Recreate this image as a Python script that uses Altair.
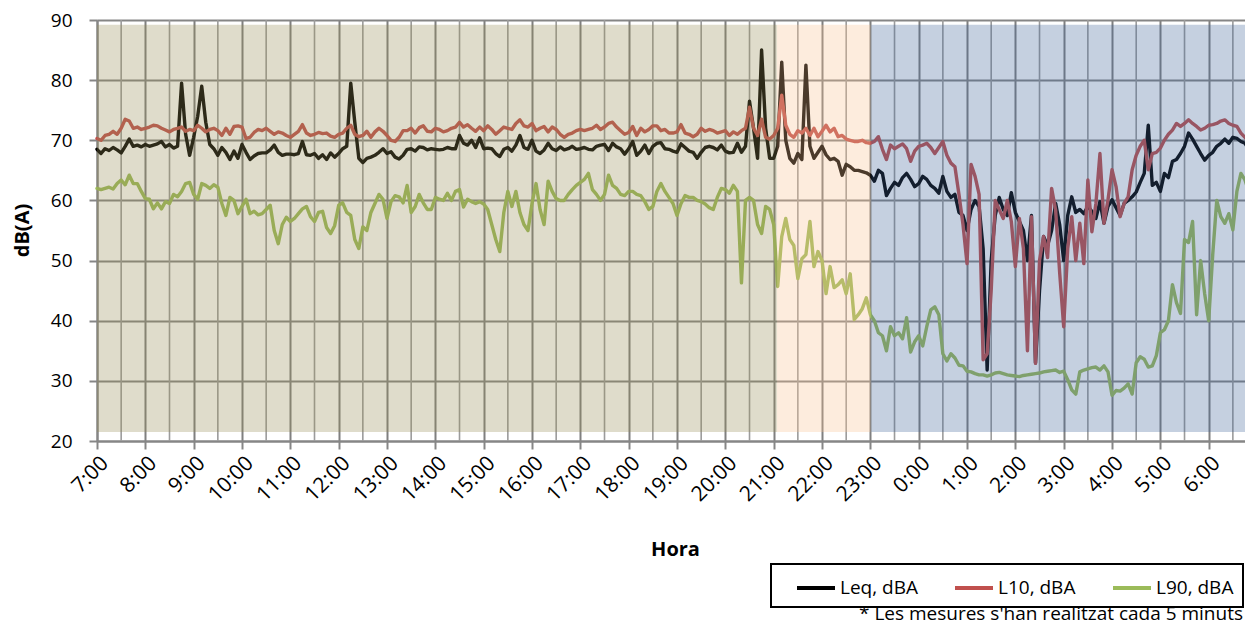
import json
import altair as alt
import pandas as pd

# ---------------- data ----------------
hour_labels = ["7:00", "8:00", "9:00", "10:00", "11:00", "12:00", "13:00", "14:00",
               "15:00", "16:00", "17:00", "18:00", "19:00", "20:00", "21:00", "22:00",
               "23:00", "0:00", "1:00", "2:00", "3:00", "4:00", "5:00", "6:00"]

series_names = ["Leq, dBA", "L10, dBA", "L90, dBA"]
series_colors = ["#000000", "#C0504D", "#9BBB59"]

# one value every 5 minutes, starting at 7:00
leq = [
    68.5, 67.8, 68.6, 68.3, 68.8, 68.4, 67.9, 69.0, 70.2, 69.0,
    69.2, 68.9, 69.3, 69.0, 69.2, 69.4, 69.8, 68.9, 69.3, 68.7,
    69.0, 79.5, 71.0, 67.5, 70.5, 74.0, 79.0, 73.0, 69.3, 68.6,
    67.5, 68.8, 68.0, 66.8, 68.2, 67.0, 69.3, 68.0, 66.8, 67.4,
    67.8, 67.9, 67.9, 68.4, 69.2, 68.0, 67.5, 67.7, 67.7, 67.6,
    67.8, 69.8, 67.6, 67.5, 67.8, 67.0, 67.6, 66.8, 67.9, 67.2,
    67.8, 68.6, 69.0, 79.5, 73.0, 67.0, 66.3, 67.0, 67.2, 67.5,
    68.0, 68.6, 67.8, 68.1, 67.2, 66.9, 67.5, 68.5, 68.6, 68.2,
    68.9, 68.8, 68.4, 68.6, 68.5, 68.4, 68.5, 68.8, 68.6, 68.6,
    70.8, 69.5, 69.2, 70.0, 68.8, 70.4, 68.6, 68.7, 68.6, 67.8,
    67.3, 68.5, 68.8, 68.2, 69.2, 70.8, 68.8, 68.5, 70.0, 68.2,
    67.8, 68.4, 69.5, 68.6, 68.3, 68.9, 68.4, 68.6, 69.0, 68.5,
    68.6, 68.8, 68.5, 68.4, 69.0, 69.2, 69.3, 68.3, 69.5, 68.9,
    68.6, 67.7, 68.6, 69.8, 67.5, 68.2, 69.2, 67.8, 69.0, 69.5,
    69.6, 68.6, 68.5, 68.2, 68.0, 69.4, 68.8, 68.2, 68.0, 67.0,
    68.0, 68.8, 69.0, 68.8, 68.4, 69.2, 68.2, 67.9, 68.0, 69.5,
    68.0, 69.0, 76.5, 72.0, 67.0, 85.0, 72.0, 67.0, 67.0, 69.0,
    83.0, 70.0, 67.0, 66.2, 67.8, 66.8, 82.5, 69.0, 67.0, 68.0,
    69.0, 67.6, 66.8, 67.0, 66.5, 64.2, 66.0, 65.6, 65.0, 65.0,
    64.8, 64.6, 64.2, 63.2, 65.0, 64.5, 60.8, 62.0, 63.0, 62.5,
    63.8, 64.5, 63.5, 62.3, 62.8, 64.0, 63.5, 62.5, 62.0, 61.2,
    64.0, 61.5, 60.5, 61.0, 58.0, 57.5, 55.0, 58.5, 60.0, 59.0,
    52.0, 31.8, 50.0, 57.5, 60.5, 58.5, 57.5, 61.3, 58.0, 56.5,
    55.0, 50.0, 57.5, 33.0, 45.0, 54.0, 52.5, 55.0, 59.5, 56.0,
    50.0, 57.5, 60.6, 58.0, 58.5, 57.8, 59.0, 58.2, 57.0, 59.8,
    56.2, 59.0, 60.1, 58.8, 57.5, 59.5, 60.0, 60.6, 61.4, 63.0,
    64.5, 72.5, 62.5, 63.0, 61.5, 64.5, 63.8, 66.5, 66.8, 67.8,
    69.0, 71.2, 70.2, 69.0, 67.8, 66.7, 67.5, 68.0, 69.0, 69.5,
    70.2, 69.5, 70.5, 70.3, 69.8, 69.5, 68.5, 67.3,
]

l10 = [
    70.3, 70.0, 70.8, 71.0, 71.5, 71.0, 72.0, 73.5, 73.2, 72.0,
    72.2, 71.8, 72.0, 72.2, 72.5, 72.4, 72.0, 71.7, 71.4, 71.8,
    72.0, 72.2, 71.5, 71.8, 71.6, 72.5, 72.0, 71.4, 71.8, 72.0,
    71.6, 70.8, 72.0, 71.0, 72.3, 72.4, 72.2, 70.3, 70.5, 71.3,
    71.8, 71.6, 72.0, 71.5, 71.0, 71.4, 71.2, 70.8, 70.5, 71.0,
    71.5, 72.6, 71.2, 70.8, 71.0, 71.3, 71.1, 71.2, 70.7, 70.5,
    71.0, 71.2, 72.0, 72.5, 71.0, 70.6, 70.8, 71.5, 70.5, 71.4,
    72.0, 71.5, 70.8, 70.0, 69.8, 70.5, 71.6, 71.6, 72.0, 71.2,
    72.1, 72.4, 71.5, 71.4, 72.0, 71.8, 71.4, 71.6, 72.0, 72.2,
    73.0, 72.2, 72.6, 72.0, 71.5, 72.2, 71.6, 72.4, 71.8, 71.0,
    71.6, 72.2, 72.0, 71.8, 72.8, 73.4, 72.4, 72.2, 72.8, 71.6,
    72.0, 72.3, 71.4, 72.2, 71.8, 71.0, 70.5, 71.0, 71.2, 71.6,
    71.8, 71.6, 71.8, 72.0, 72.5, 71.8, 72.2, 72.8, 73.0, 72.2,
    71.6, 71.0, 71.3, 72.3, 70.8, 72.0, 71.4, 71.8, 72.4, 72.4,
    71.6, 71.8, 71.2, 71.2, 71.4, 72.6, 71.2, 71.0, 70.6, 71.0,
    72.0, 71.5, 71.8, 71.6, 71.2, 71.4, 71.6, 70.8, 71.4, 71.0,
    71.6, 72.0, 75.5, 72.0, 70.8, 73.5, 70.5, 70.2, 70.8, 72.0,
    77.5, 72.5, 71.0, 70.5, 71.6, 71.2, 72.0, 70.8, 72.0, 70.6,
    71.5, 72.5, 71.4, 72.0, 70.6, 70.8, 70.2, 70.0, 69.8, 69.8,
    70.0, 69.6, 69.5, 69.8, 70.6, 68.5, 66.8, 69.2, 68.6, 69.0,
    69.4, 68.6, 66.5, 68.2, 69.0, 69.2, 69.5, 68.8, 67.8, 68.8,
    69.8, 67.5, 66.2, 65.6, 61.0, 56.0, 49.5, 66.0, 64.0, 61.0,
    33.5, 34.5, 45.0, 60.0, 58.5, 57.0, 60.0, 56.5, 49.0, 57.0,
    52.0, 35.0, 57.3, 32.9, 50.0, 54.0, 50.5, 62.0, 58.4, 48.0,
    39.0, 52.0, 57.3, 50.0, 56.2, 49.5, 63.4, 54.8, 59.5, 67.8,
    56.2, 60.1, 65.1, 62.3, 57.3, 59.5, 60.6, 65.1, 67.5, 69.0,
    70.0, 65.1, 67.8, 68.0, 68.7, 70.0, 71.0, 71.7, 72.8, 72.3,
    72.8, 73.4, 72.8, 72.3, 71.7, 72.0, 72.5, 72.6, 72.8, 73.2,
    73.4, 72.8, 72.5, 72.3, 71.2, 70.5, 69.8, 69.5,
]

l90 = [
    62.0, 61.8, 62.0, 62.2, 61.9, 62.8, 63.4, 62.6, 64.2, 62.8,
    62.8, 61.5, 60.3, 60.2, 58.6, 59.6, 58.6, 59.8, 59.5, 61.0,
    60.6, 61.5, 62.8, 63.0, 61.0, 60.2, 62.8, 62.5, 62.0, 62.6,
    62.2, 59.5, 57.5, 60.5, 60.0, 57.8, 59.0, 60.2, 57.8, 58.2,
    57.6, 57.8, 58.5, 59.2, 55.0, 52.8, 56.0, 57.2, 56.5, 57.0,
    57.8, 58.6, 59.0, 57.3, 56.5, 58.0, 58.2, 55.5, 54.5, 55.8,
    59.2, 59.6, 58.0, 57.5, 53.5, 52.0, 55.6, 55.0, 58.0, 59.5,
    61.0, 60.2, 57.0, 59.8, 60.8, 60.6, 59.6, 62.5, 58.0, 59.0,
    61.0, 59.6, 58.5, 58.5, 60.5, 60.2, 60.0, 61.2, 60.0, 61.5,
    61.8, 58.9, 60.2, 59.8, 59.5, 59.8, 59.4, 58.5, 56.0, 53.5,
    51.5, 58.0, 61.5, 59.0, 61.5, 58.0, 56.0, 55.0, 59.5, 62.8,
    58.5, 56.0, 63.2, 61.5, 60.3, 60.0, 60.0, 61.0, 61.8, 62.5,
    63.0, 63.5, 64.5, 61.8, 61.0, 60.0, 61.0, 64.2, 62.5, 62.0,
    61.0, 60.8, 61.5, 61.5, 61.0, 60.8, 59.8, 58.5, 59.0, 61.5,
    62.8, 61.5, 60.5, 59.5, 57.5, 59.5, 60.8, 60.5, 60.5, 60.0,
    59.8, 59.4, 58.8, 58.5, 60.5, 62.0, 61.8, 61.2, 62.5, 61.5,
    46.3, 60.0, 60.5, 60.0, 56.0, 54.5, 59.0, 58.5, 56.0, 45.7,
    54.0, 57.0, 53.5, 52.5, 47.0, 50.3, 51.0, 56.5, 49.0, 51.5,
    50.0, 44.5, 49.0, 45.5, 46.0, 46.8, 44.5, 47.8, 40.2, 41.0,
    42.0, 43.8, 41.0, 40.0, 38.0, 37.5, 35.0, 39.0, 37.5, 38.0,
    37.0, 40.5, 34.8, 36.5, 37.5, 35.8, 39.0, 41.8, 42.3, 41.0,
    34.5, 33.3, 34.5, 33.8, 32.6, 32.5, 31.6, 31.5, 31.2, 31.0,
    31.0, 30.8, 31.0, 31.3, 31.4, 31.2, 31.0, 30.9, 30.8, 30.7,
    30.9, 31.0, 31.1, 31.2, 31.3, 31.5, 31.6, 31.7, 31.8, 31.4,
    31.6, 30.2, 28.5, 27.8, 31.5, 31.8, 32.0, 32.2, 32.3, 31.8,
    32.5, 31.5, 27.6, 28.4, 28.3, 28.8, 29.5, 27.8, 33.0, 34.0,
    33.6, 32.3, 32.5, 34.2, 38.0, 38.5, 40.0, 46.0, 43.0, 41.2,
    53.5, 53.0, 56.5, 41.0, 50.0, 44.5, 40.0, 51.0, 60.0, 57.3,
    56.2, 57.8, 55.1, 61.5, 64.5, 63.4, 61.4, 62.3,
]

# shaded periods (hours after 7:00): day, evening, night
period_names = ["dia", "vespre", "nit"]
period_start = [0.0, 14.07, 16.02]
period_end = [14.07, 16.0, 287 / 12]
period_colors = ["#948A54", "#FAC090", "#3E6298"]
period_low = [21.5, 21.5, 21.5]
period_high = [89.2, 89.2, 89.2]

half_hours = [h + 0.5 for h in range(24)]

footnote = "* Les mesures s'han realitzat cada 5 minuts"

# ---------------- tables ----------------
rows = []
for name, vals in zip(series_names, [leq, l10, l90]):
    for i, v in enumerate(vals):
        rows.append({"t": i * 5 / 60, "v": v, "serie": name})
df = pd.DataFrame(rows)

bands_df = pd.DataFrame({
    "name": period_names, "start": period_start, "end": period_end,
    "low": period_low, "high": period_high, "col": period_colors,
})
half_df = pd.DataFrame({"h": half_hours})

# the reference plot runs past the right edge of the page: the last
# few minutes fall just outside the visible width
FULL_W = 1156
VIS_W = 1148
tmax = (len(leq) - 1) * 5 / 60
t_visible = tmax * VIS_W / FULL_W

FONT = "Open Sans"
GRID = "#868686"

xaxis = alt.Axis(
    values=list(range(24)),
    labelExpr=f"{json.dumps(hour_labels)}[datum.value]",
    labelAngle=315, labelFont=FONT, labelFontSize=21, labelColor="#000000",
    labelOverlap=False, labelFlush=False, labelPadding=3,
    grid=True, gridColor="#808080", gridWidth=2,
    tickSize=8, tickWidth=2, tickColor=GRID,
    domainColor=GRID, domainWidth=2,
    title="Hora", titleFont=FONT, titleFontSize=20, titleFontWeight="bold",
    titleColor="#000000", titleX=578, titleY=108, titleBaseline="middle", titleAlign="center",
)

yaxis = alt.Axis(
    values=list(range(20, 91, 10)), grid=True, gridColor=GRID, gridWidth=2,
    tickSize=8, tickWidth=2, tickColor=GRID, domainColor=GRID, domainWidth=2,
    labelFont=FONT, labelFontSize=19, labelPadding=17, labelColor="#000000",
    title="dB(A)", titleFont=FONT, titleFontSize=20, titleFontWeight="bold",
    titleColor="#000000", titleX=-75, titleY=210, titleBaseline="middle", titleAlign="center",
)

xs = alt.Scale(domain=[0, t_visible], nice=False, zero=False)
ys = alt.Scale(domain=[20, 90], nice=False, zero=False)

half_grid = alt.Chart(half_df).mark_rule(color="#9c9c9c", strokeWidth=1.6).encode(
    x=alt.X("h:Q", scale=xs, axis=xaxis),
    y=alt.value(0), y2=alt.value(421),
)

lines = alt.Chart(df).mark_line(strokeWidth=3.4, strokeJoin="round", strokeCap="round").encode(
    x=alt.X("t:Q", scale=xs, axis=xaxis),
    y=alt.Y("v:Q", scale=ys, axis=yaxis),
    color=alt.Color(
        "serie:N",
        scale=alt.Scale(domain=series_names, range=series_colors),
        sort=series_names,
        legend=alt.Legend(
            orient="none", legendX=698, legendY=547, direction="horizontal", title=None,
            symbolType="stroke", symbolStrokeWidth=4, symbolSize=1444,
            labelFont=FONT, labelFontSize=19, labelColor="#000000",
            columnPadding=29, labelOffset=3, padding=0,
        ),
    ),
)

bands = alt.Chart(bands_df).mark_rect(opacity=0.3).encode(
    x=alt.X("start:Q", scale=xs, axis=xaxis),
    x2="end:Q",
    y=alt.Y("low:Q", scale=ys, axis=yaxis),
    y2="high:Q",
    fill=alt.Fill("col:N", scale=None),
)

frame = alt.Chart(pd.DataFrame({"k": [0]})).mark_rect(
    fill="white", stroke="black", strokeWidth=2
).encode(
    x=alt.value(674), x2=alt.value(1146), y=alt.value(544), y2=alt.value(587)
)

note = alt.Chart(pd.DataFrame({"txt": [footnote]})).mark_text(
    align="right", baseline="middle", font=FONT, fontSize=19, color="#000000"
).encode(x=alt.value(1146), y=alt.value(594), text="txt:N")

chart = alt.layer(half_grid, lines, bands, frame, note).properties(
    width=VIS_W, height=421,
    autosize=alt.AutoSizeParams(type="none"),
    padding={"left": 89, "top": 12, "right": 0, "bottom": 184},
    background="white",
).configure_view(stroke=None)

chart.save("out.html", embed_options={"renderer": "svg", "actions": False})
